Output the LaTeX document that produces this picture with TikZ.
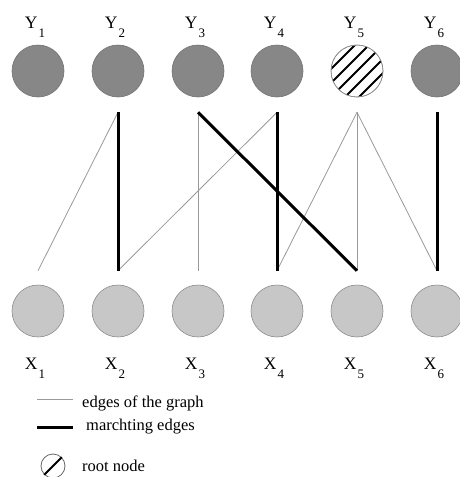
\documentclass[tikz,border=0pt]{standalone}
\usepackage{fontspec}
\setmainfont{Liberation Serif}
\begin{document}
\begin{tikzpicture}[x=1pt,y=-1pt,
  ynode/.style={circle,draw=black!55,fill=black!47,line width=0.6pt,minimum size=52pt,inner sep=0pt},
  xnode/.style={circle,draw=black!45,fill=black!22,line width=0.6pt,minimum size=52pt,inner sep=0pt},
  rootnode/.style={circle,draw=black!45,fill=white,line width=0.6pt,minimum size=52pt,inner sep=0pt},
  lab/.style={inner sep=0pt,anchor=base,font=\fontsize{17.5}{18}\selectfont},
  legtext/.style={inner sep=0pt,anchor=west,font=\fontsize{16.5}{18}\selectfont},
  thinedge/.style={draw=black!40,line width=0.8pt},
  thickedge/.style={draw=black,line width=3pt}]
\useasboundingbox (0,0) rectangle (459,477);
\newcommand{\sublab}[2]{#1\kern1pt\raisebox{-9pt}{\fontsize{13}{13}\selectfont #2}}
% Y row
\foreach \i/\x in {1/38,2/118,3/198,4/277,6/437}{
  \node[ynode] (Y\i) at (\x,71) {};
}
\node[rootnode] (Y5) at (357,71) {};
\begin{scope}
  \clip (Y5.center) circle (25.7pt);
  \foreach \d in {-28,-14,0,14,28}{
    \draw[line width=1.8pt] ([xshift=\d pt-40pt,yshift=-40pt]Y5.center) -- ++(80pt,80pt);
  }
\end{scope}
\draw[draw=black!45,line width=0.6pt] (Y5) circle (26pt);
\foreach \i/\x in {1/35,2/115,3/195,4/274,5/354,6/434}{
  \node[lab] (LY\i) at (\x,28.5) {\sublab{Y}{\i}};
}
% X row
\foreach \i/\x in {1/38,2/118,3/198,4/277,5/357,6/437}{
  \node[xnode] (X\i) at (\x,311) {};
  \node[lab] (LX\i) at (\x-3,369) {\sublab{X}{\i}};
}
% edges
\foreach \a/\b in {2/1,3/3,4/2,5/4,5/5,5/6}{
  \draw[thinedge] ([yshift=-15pt]Y\a.south) -- ([yshift=14pt]X\b.north);
}
\foreach \a/\b in {2/2,3/5,4/4,6/6}{
  \draw[thickedge] ([yshift=-15pt]Y\a.south) -- ([yshift=14pt]X\b.north);
}
% legend
\coordinate (l1a) at (37,399); \coordinate (l1b) at (73,399);
\coordinate (l2a) at (37,427); \coordinate (l2b) at (73,427);
\draw[thinedge] (l1a) -- (l1b);
\draw[thickedge] (l2a) -- (l2b);
\node[legtext] (t1) at (82,403) {edges of the graph};
\node[legtext] (t2) at (86,427) {marchting edges};
\node[circle,draw=black!60,line width=0.8pt,minimum size=24pt,inner sep=0pt] (rn) at (53,466) {};
\draw[line width=1.8pt] (rn.south west) -- (rn.north east);
\node[legtext] (t3) at (82,466) {root node};
\end{tikzpicture}
\end{document}
